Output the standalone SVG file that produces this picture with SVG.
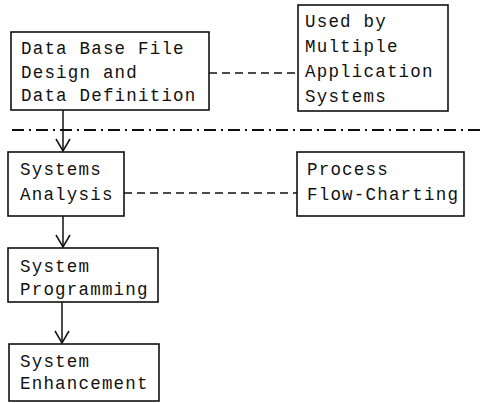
<svg xmlns="http://www.w3.org/2000/svg" width="483" height="403" viewBox="0 0 483 403">
<style>
  .box { fill: #fff; stroke: #111; stroke-width: 1.6; }
  .t { font-family: "Liberation Mono", "DejaVu Sans Mono", monospace; font-size: 17.5px; letter-spacing: 1.2px; fill: #111; }
  .dash { stroke: #111; stroke-width: 1.5; fill: none; stroke-dasharray: 8 5; }
  .dashdot { stroke: #111; stroke-width: 1.8; fill: none; stroke-dasharray: 12 5 2 5; }
  .flow { stroke: #111; stroke-width: 1.5; fill: none; }
</style>
<defs>
  <marker id="v" viewBox="0 0 14 16" refX="13" refY="8" markerWidth="14" markerHeight="16" markerUnits="userSpaceOnUse" orient="auto">
    <path d="M1,1 L13,8 L1,15" fill="none" stroke="#111" stroke-width="1.5"/>
  </marker>
</defs>
<rect width="483" height="403" fill="#fff"/>

<g id="connectors">
  <line class="dash" x1="209" y1="73" x2="298" y2="73"/>
  <line class="dash" x1="124" y1="193" x2="297" y2="193"/>
  <line class="dashdot" x1="12" y1="130" x2="483" y2="130"/>
  <line class="flow" x1="63" y1="110" x2="63" y2="151" marker-end="url(#v)"/>
  <line class="flow" x1="63" y1="216" x2="63" y2="247" marker-end="url(#v)"/>
  <line class="flow" x1="62" y1="302" x2="62" y2="343" marker-end="url(#v)"/>
</g>

<g id="node-database">
  <rect class="box" x="11" y="32" width="198" height="78"/>
  <text class="t" x="21" y="54">Data Base File</text>
  <text class="t" x="21" y="78">Design and</text>
  <text class="t" x="21" y="101">Data Definition</text>
</g>

<g id="node-used-by">
  <rect class="box" x="298" y="5" width="150" height="106"/>
  <text class="t" x="305" y="27">Used by</text>
  <text class="t" x="305" y="52">Multiple</text>
  <text class="t" x="305" y="77">Application</text>
  <text class="t" x="305" y="102">Systems</text>
</g>

<g id="node-analysis">
  <rect class="box" x="8" y="152" width="116" height="64"/>
  <text class="t" x="20" y="175">Systems</text>
  <text class="t" x="20" y="200">Analysis</text>
</g>

<g id="node-flowcharting">
  <rect class="box" x="297" y="152" width="167" height="64"/>
  <text class="t" x="307" y="175">Process</text>
  <text class="t" x="307" y="200">Flow-Charting</text>
</g>

<g id="node-programming">
  <rect class="box" x="8" y="248" width="150" height="54"/>
  <text class="t" x="20" y="272">System</text>
  <text class="t" x="20" y="295">Programming</text>
</g>

<g id="node-enhancement">
  <rect class="box" x="9" y="344" width="150" height="57"/>
  <text class="t" x="20" y="367">System</text>
  <text class="t" x="20" y="389">Enhancement</text>
</g>
</svg>
